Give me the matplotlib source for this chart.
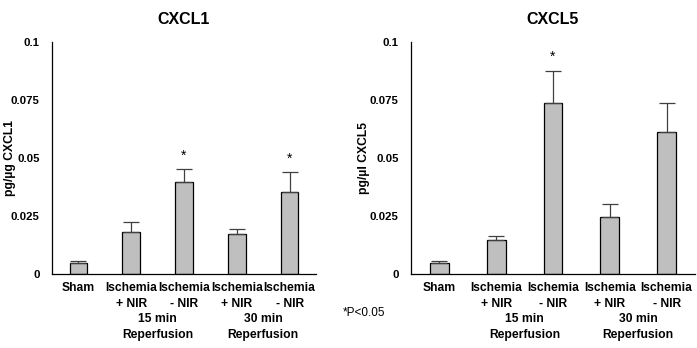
import matplotlib.pyplot as plt
import numpy as np

# Chemokine levels after ischemia/reperfusion, with and without NIR
groups = ['Sham', 'Ischemia\n+ NIR', 'Ischemia\n- NIR', 'Ischemia\n+ NIR', 'Ischemia\n- NIR']
reperfusion = ['15 min\nReperfusion', '30 min\nReperfusion']

cxcl1_mean = [0.0046, 0.0180, 0.0398, 0.0171, 0.0352]
cxcl1_err = [0.0010, 0.0043, 0.0053, 0.0022, 0.0086]
cxcl1_sig = [False, False, True, False, True]

cxcl5_mean = [0.0046, 0.0147, 0.0737, 0.0245, 0.0612]
cxcl5_err = [0.0009, 0.0016, 0.0139, 0.0057, 0.0125]
cxcl5_sig = [False, False, True, False, False]

yticks = [0, 0.025, 0.05, 0.075, 0.1]
ytick_labels = ['0', '0.025', '0.05', '0.075', '0.1']

plt.rcParams['font.family'] = ['Liberation Sans', 'DejaVu Sans']

fig = plt.figure(figsize=(6.97, 3.48), dpi=100)
W, H = 697, 348


def panel(rect, title, ylabel, label_x, mean, err, sig):
    ax = fig.add_axes(rect)
    x = np.arange(len(mean))
    ax.bar(x, mean, width=0.33, color='#bfbfbf', edgecolor='black', linewidth=0.9, zorder=2)
    ax.errorbar(x, mean, yerr=[np.zeros(len(err)), err], fmt='none',
                ecolor='#404040', elinewidth=0.9, capsize=5.5, capthick=0.9, zorder=3)
    for xi, m, e, s in zip(x, mean, err, sig):
        if s:
            ax.text(xi, m + e + 0.003, '*', ha='center', va='bottom', fontsize=10)
    ax.set_xlim(-0.5, 4.5)
    ax.set_ylim(0, 0.1)
    ax.set_yticks(yticks)
    ax.set_yticklabels(ytick_labels, fontweight='bold', fontsize=8.2)
    ax.set_xticks(x)
    ax.set_xticklabels(groups, fontweight='bold', fontsize=8.7, linespacing=1.45)
    ax.tick_params(length=0)
    ax.tick_params(axis='x', pad=6)
    ax.tick_params(axis='y', pad=9)
    for side in ['top', 'right']:
        ax.spines[side].set_visible(False)
    ax.spines['left'].set_linewidth(0.9)
    ax.spines['bottom'].set_linewidth(0.9)
    ax.set_title(title, fontweight='bold', fontsize=11.5, pad=13)
    ax.set_ylabel(ylabel, fontweight='bold', fontsize=8.7)
    ax.yaxis.set_label_coords(label_x, 0.5)
    # reperfusion group labels under each pair of ischemia bars
    for gx, lab in zip([1.5, 3.5], reperfusion):
        ax.text(gx, -0.17, lab, transform=ax.get_xaxis_transform(), ha='center', va='top',
                fontweight='bold', fontsize=8.7, linespacing=1.45)
    return ax


panel([52 / W, 1 - 274 / H, 264 / W, 232 / H], 'CXCL1', 'pg/µg CXCL1', -0.138,
      cxcl1_mean, cxcl1_err, cxcl1_sig)
panel([411 / W, 1 - 274 / H, 284 / W, 232 / H], 'CXCL5', 'pg/µl CXCL5', -0.145,
      cxcl5_mean, cxcl5_err, cxcl5_sig)

fig.text(343 / W, 1 - 313 / H, '*P<0.05', ha='left', va='center', fontsize=8.5)

fig.savefig('out.png', dpi=100)
